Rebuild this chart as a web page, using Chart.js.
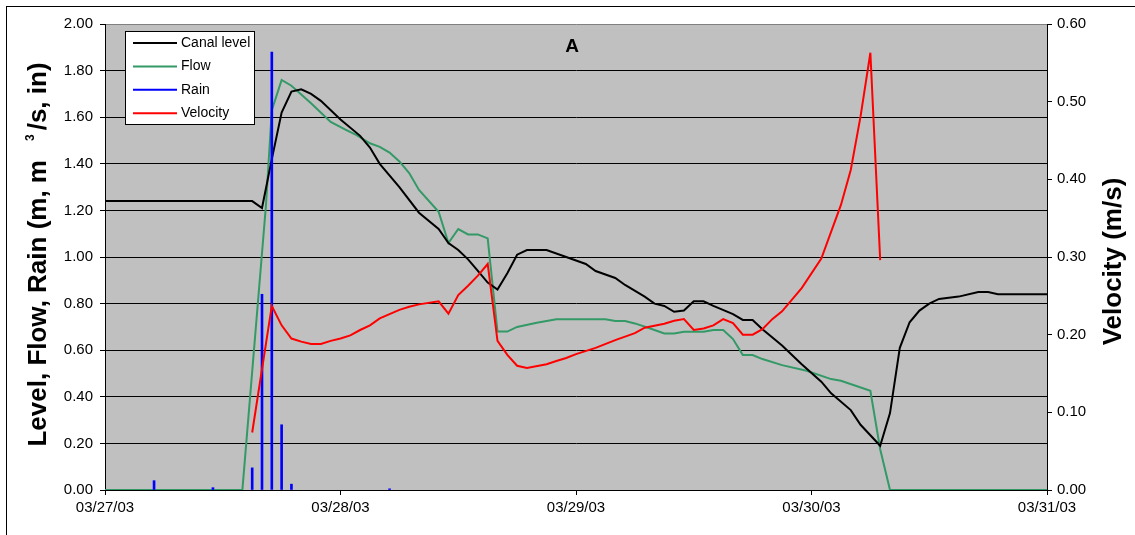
<!DOCTYPE html>
<html lang="en">
<head>
  <meta charset="UTF-8">
  <title>Canal level, flow, rain and velocity</title>
  <script src="https://cdn.jsdelivr.net/npm/chart.js"></script>
  <style>
    body { margin: 0; background: #fff; }
    canvas { display: block; }
  </style>
</head>
<body>
  <canvas id="chart" width="1135" height="535"></canvas>
  <script>
    // x values are hours counted from 03/27/03 00:00
    const xTickLabels = ['03/27/03', '03/28/03', '03/29/03', '03/30/03', '03/31/03'];
    const xTickHours = [0, 24, 48, 72, 96];

    const levelHours = [0, 15, 16, 17, 18, 19, 20, 21, 22, 24, 26, 27, 28, 30, 32, 34, 35, 36, 37, 38,
      39, 40, 41, 42, 43, 45, 47, 49, 50, 52, 53, 55, 56, 57, 58, 59, 60, 61, 62, 64,
      65, 66, 67, 69, 71, 73, 74, 76, 77, 79, 80, 81, 82, 83, 84, 85, 87, 89, 90, 91, 96];
    const levelValues = [1.24, 1.24, 1.21, 1.42, 1.62, 1.71, 1.72, 1.70, 1.67, 1.59, 1.52, 1.47, 1.40, 1.30, 1.19, 1.12, 1.06, 1.03, 0.99, 0.94,
      0.89, 0.86, 0.93, 1.01, 1.03, 1.03, 1.00, 0.97, 0.94, 0.91, 0.88, 0.83, 0.80, 0.79, 0.765, 0.77, 0.81, 0.81, 0.79, 0.755,
      0.73, 0.73, 0.69, 0.62, 0.54, 0.465, 0.415, 0.343, 0.28, 0.19, 0.33, 0.61, 0.72, 0.77, 0.80, 0.82, 0.83, 0.85, 0.85, 0.84, 0.84];

    const flowHours = [0, 14, 16.4, 17, 18, 19, 21, 23, 24.6, 25.6, 27, 28, 29, 30, 31, 32, 34, 35, 36, 37,
      38, 39, 40, 41, 42, 44, 46, 51, 52, 53, 54, 55.5, 57, 58, 59, 61, 62, 63, 64, 65,
      66, 67, 69, 71.5, 74, 75, 78, 79, 80, 96];
    const flowValues = [0, 0, 1.22, 1.63, 1.76, 1.735, 1.66, 1.58, 1.545, 1.524, 1.488, 1.473, 1.448, 1.41, 1.36, 1.288, 1.194, 1.06, 1.12, 1.097,
      1.097, 1.08, 0.68, 0.68, 0.70, 0.718, 0.733, 0.733, 0.725, 0.725, 0.715, 0.694, 0.672, 0.672, 0.679, 0.679, 0.687, 0.687, 0.648, 0.579,
      0.579, 0.562, 0.536, 0.512, 0.476, 0.469, 0.426, 0.175, 0, 0];

    const rainHours = [5, 11, 15, 16, 17, 18, 19, 29];
    const rainValues = [0.04, 0.01, 0.095, 0.84, 1.88, 0.28, 0.025, 0.005];

    const velHours = [15, 17, 18, 19, 20, 21, 22, 23, 24, 25, 26, 27, 28, 30, 31, 32, 34, 35, 36, 37,
      38, 39, 40, 41, 42, 43, 45, 46, 47, 48, 50, 52, 54, 55, 57, 58, 59, 60, 61, 62,
      63, 64, 65, 66, 67, 68, 69, 71, 73, 75, 76, 77, 78, 79];
    const velValues = [0.074, 0.237, 0.212, 0.195, 0.191, 0.188, 0.188, 0.192, 0.195, 0.199, 0.206, 0.212, 0.221, 0.232, 0.236, 0.239, 0.243, 0.227, 0.251, 0.263,
      0.276, 0.291, 0.192, 0.174, 0.160, 0.157, 0.162, 0.166, 0.170, 0.175, 0.183, 0.193, 0.202, 0.209, 0.214, 0.218, 0.220, 0.206, 0.208, 0.212,
      0.220, 0.215, 0.200, 0.200, 0.207, 0.220, 0.230, 0.260, 0.298, 0.367, 0.412, 0.481, 0.563, 0.296];

    const pts = (xs, ys) => xs.map((x, i) => ({ x: x, y: ys[i] }));

    const FONT = "'Liberation Sans', Arial, sans-serif";
    Chart.defaults.font.family = FONT;
    Chart.defaults.color = '#000';

    const overlay = {
      id: 'overlay',
      beforeDraw(chart) {
        const { ctx, chartArea: a } = chart;
        ctx.save();
        ctx.fillStyle = '#c0c0c0';
        ctx.fillRect(a.left, a.top, a.right - a.left, a.bottom - a.top);
        ctx.restore();
      },
      afterDraw(chart) {
        const { ctx, chartArea: a } = chart;
        ctx.save();

        // outer frame
        ctx.fillStyle = '#000';
        ctx.fillRect(6, 6, chart.width - 6, 1);
        ctx.fillRect(6, 6, 1, chart.height - 6);

        // panel letter
        ctx.font = 'bold 19px ' + FONT;
        ctx.textAlign = 'center';
        ctx.textBaseline = 'alphabetic';
        ctx.fillText('A', (a.left + a.right) / 2 - 4, a.top + 28);

        // legend box
        ctx.fillStyle = '#fff';
        ctx.fillRect(125.5, 31.5, 129, 93);
        ctx.strokeStyle = '#000';
        ctx.lineWidth = 1;
        ctx.strokeRect(125.5, 31.5, 129, 93);
        ctx.font = '14px ' + FONT;
        ctx.textAlign = 'left';
        ctx.textBaseline = 'middle';
        chart.data.datasets.forEach((ds, i) => {
          const y = 43 + i * 23.4;
          ctx.strokeStyle = ds.borderColor || ds.backgroundColor;
          ctx.lineWidth = 2;
          ctx.beginPath();
          ctx.moveTo(133, y);
          ctx.lineTo(177, y);
          ctx.stroke();
          ctx.fillStyle = '#000';
          ctx.fillText(ds.label, 181, y);
        });

        // left axis title with superscript
        const t1 = 'Level, Flow, Rain (m, m', t2 = '/s, in)';
        ctx.font = 'bold 26px ' + FONT;
        const w1 = ctx.measureText(t1).width, w2 = ctx.measureText(t2).width;
        ctx.font = 'bold 12px ' + FONT;
        const w3 = ctx.measureText('3').width;
        const total = w1 + 19 + w3 + 4 + w2;
        ctx.save();
        ctx.translate(46, 254.5);
        ctx.rotate(-Math.PI / 2);
        ctx.textAlign = 'left';
        ctx.textBaseline = 'alphabetic';
        ctx.fillStyle = '#000';
        let u = -total / 2;
        ctx.font = 'bold 26px ' + FONT;
        ctx.fillText(t1, u, 0);
        u += w1 + 19;
        ctx.font = 'bold 12px ' + FONT;
        ctx.fillText('3', u, -12);
        u += w3 + 4;
        ctx.font = 'bold 26px ' + FONT;
        ctx.fillText(t2, u, 0);
        ctx.restore();

        // right axis title
        ctx.save();
        ctx.translate(1121, 261.5);
        ctx.rotate(-Math.PI / 2);
        ctx.textAlign = 'center';
        ctx.textBaseline = 'alphabetic';
        ctx.fillStyle = '#000';
        ctx.font = 'bold 26px ' + FONT;
        ctx.fillText('Velocity (m/s)', 0, 0);
        ctx.restore();

        ctx.restore();
      }
    };

    new Chart(document.getElementById('chart'), {
      type: 'line',
      data: {
        datasets: [
          { label: 'Canal level', data: pts(levelHours, levelValues), borderColor: '#000000', yAxisID: 'y', order: 3 },
          { label: 'Flow', data: pts(flowHours, flowValues), borderColor: '#339966', yAxisID: 'y', order: 4 },
          { type: 'bar', label: 'Rain', data: pts(rainHours, rainValues), backgroundColor: '#0000ff', borderWidth: 0, barThickness: 2, yAxisID: 'y', order: 2 },
          { label: 'Velocity', data: pts(velHours, velValues), borderColor: '#ff0000', yAxisID: 'y2', order: 1 }
        ]
      },
      options: {
        responsive: false,
        animation: false,
        layout: { padding: { top: 24, left: 0, right: 0, bottom: 0 } },
        elements: {
          line: { borderWidth: 2, tension: 0, fill: false },
          point: { radius: 0, hoverRadius: 0 }
        },
        plugins: { legend: { display: false }, tooltip: { enabled: false } },
        scales: {
          x: {
            type: 'linear', min: 0, max: 96, offset: false,
            afterFit(s) { s.height = 45; },
            afterBuildTicks(s) { s.ticks = xTickHours.map(v => ({ value: v })); },
            ticks: { font: { size: 15 }, padding: 4, maxRotation: 0, autoSkip: false,
              callback: v => xTickLabels[xTickHours.indexOf(v)] },
            grid: { offset: false, drawOnChartArea: false, tickLength: 5, color: '#000' },
            border: { color: '#000' }
          },
          y: {
            position: 'left', min: 0, max: 2,
            afterFit(s) { s.width = 105; },
            ticks: { stepSize: 0.2, font: { size: 15 }, padding: 7, callback: v => v.toFixed(2) },
            grid: { color: c => (c.tick && c.tick.value >= 1.999 ? '#808080' : '#000'), tickColor: '#000', tickLength: 5 },
            border: { color: '#000' }
          },
          y2: {
            position: 'right', min: 0, max: 0.6,
            afterFit(s) { s.width = 88; },
            ticks: { stepSize: 0.1, font: { size: 15 }, padding: 5, callback: v => v.toFixed(2) },
            grid: { drawOnChartArea: false, tickLength: 5, color: '#000' },
            border: { color: '#000' }
          }
        }
      },
      plugins: [overlay]
    });
  </script>
</body>
</html>
